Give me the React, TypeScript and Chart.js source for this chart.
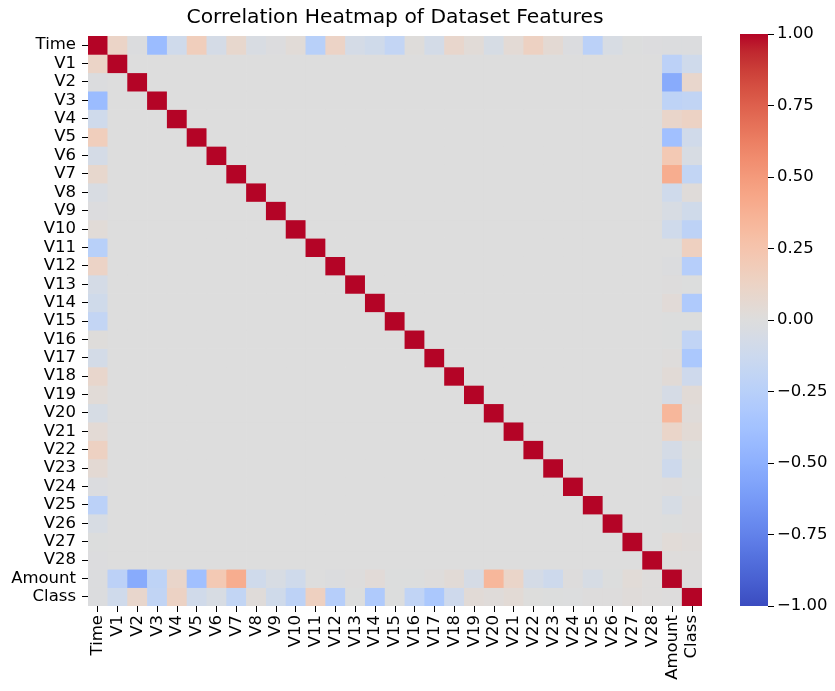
import React, { useEffect, useRef } from 'react';
import { Chart, registerables } from 'chart.js';

Chart.register(...registerables);

// ---------- DATA ----------
const LABELS = [
  'Time', 'V1', 'V2', 'V3', 'V4', 'V5', 'V6', 'V7', 'V8', 'V9', 'V10',
  'V11', 'V12', 'V13', 'V14', 'V15', 'V16', 'V17', 'V18', 'V19', 'V20',
  'V21', 'V22', 'V23', 'V24', 'V25', 'V26', 'V27', 'V28', 'Amount', 'Class',
];

// correlation of Time with V1..V28
const TIME_CORR = [
  0.117, -0.011, -0.420, -0.105, 0.173, -0.063, 0.085, -0.037, -0.009, 0.031,
  -0.248, 0.124, -0.066, -0.099, -0.183, 0.012, -0.073, 0.090, 0.029, -0.051,
  0.045, 0.144, 0.051, -0.016, -0.233, -0.041, -0.005, -0.009,
];

// correlation of Amount with V1..V28
const AMOUNT_CORR = [
  -0.228, -0.531, -0.211, 0.099, -0.386, 0.216, 0.397, -0.103, -0.044, -0.102,
  0.000, -0.010, 0.005, 0.034, -0.003, -0.004, 0.007, 0.036, -0.056, 0.339,
  0.106, -0.065, -0.113, 0.005, -0.048, -0.003, 0.029, 0.010,
];

// correlation of Class with V1..V28
const CLASS_CORR = [
  -0.101, 0.091, -0.193, 0.133, -0.095, -0.044, -0.187, 0.020, -0.098, -0.217,
  0.155, -0.261, -0.005, -0.303, -0.004, -0.197, -0.326, -0.111, 0.035, 0.020,
  0.040, 0.001, -0.003, -0.007, 0.003, 0.004, 0.018, 0.010,
];

const TIME_AMOUNT = -0.011;
const TIME_CLASS = -0.012;
const AMOUNT_CLASS = 0.006;

const CBAR_TICKS = [-1, -0.75, -0.5, -0.25, 0, 0.25, 0.5, 0.75, 1];

// ---------- COLORMAP (matplotlib coolwarm) ----------
const COOLWARM: number[][] = [
  [0.0, 0.2298057, 0.298717966, 0.753683153],
  [0.03125, 0.26623388, 0.353094838, 0.801466763],
  [0.0625, 0.30386891, 0.406535296, 0.84495867],
  [0.09375, 0.342804478, 0.458757618, 0.883725899],
  [0.125, 0.38301334, 0.50941904, 0.917387822],
  [0.15625, 0.424369608, 0.558148092, 0.945619588],
  [0.1875, 0.46666708, 0.604562568, 0.968154911],
  [0.21875, 0.509635204, 0.648280772, 0.98478814],
  [0.25, 0.552953156, 0.688929332, 0.995375608],
  [0.28125, 0.596262162, 0.726149107, 0.999836203],
  [0.3125, 0.639176211, 0.759599947, 0.998151185],
  [0.34375, 0.681291281, 0.788964712, 0.990363227],
  [0.375, 0.722193294, 0.813952739, 0.976574709],
  [0.40625, 0.761464949, 0.834302879, 0.956945269],
  [0.4375, 0.798691636, 0.849786142, 0.931688648],
  [0.46875, 0.833466556, 0.860207984, 0.901068838],
  [0.5, 0.865395197, 0.86541021, 0.865395561],
  [0.53125, 0.897787179, 0.848937047, 0.820880546],
  [0.5625, 0.924127593, 0.827384882, 0.774508472],
  [0.59375, 0.944468518, 0.800927443, 0.726736146],
  [0.625, 0.958852946, 0.769767752, 0.678007945],
  [0.65625, 0.96732803, 0.734132809, 0.628751763],
  [0.6875, 0.969954137, 0.694266682, 0.579375448],
  [0.71875, 0.966811177, 0.650421156, 0.530263762],
  [0.75, 0.958003065, 0.602842431, 0.481775914],
  [0.78125, 0.943660866, 0.551750968, 0.434243684],
  [0.8125, 0.923944917, 0.49730856, 0.387970225],
  [0.84375, 0.89904617, 0.439559467, 0.343229596],
  [0.875, 0.869186849, 0.378313092, 0.300267182],
  [0.90625, 0.834620542, 0.312874446, 0.259301199],
  [0.9375, 0.795631745, 0.24128379, 0.220525627],
  [0.96875, 0.752534934, 0.157246067, 0.184115123],
  [1.0, 0.705673158, 0.01555616, 0.150232812],
];

function cmapAt(t: number): string {
  t = Math.max(0, Math.min(1, t));
  for (let i = 0; i < COOLWARM.length - 1; i++) {
    const a = COOLWARM[i];
    const b = COOLWARM[i + 1];
    if (t <= b[0]) {
      const f = (t - a[0]) / (b[0] - a[0]);
      const r = Math.round(255 * (a[1] + f * (b[1] - a[1])));
      const g = Math.round(255 * (a[2] + f * (b[2] - a[2])));
      const bl = Math.round(255 * (a[3] + f * (b[3] - a[3])));
      return `rgb(${r},${g},${bl})`;
    }
  }
  const l = COOLWARM[COOLWARM.length - 1];
  return `rgb(${Math.round(255 * l[1])},${Math.round(255 * l[2])},${Math.round(255 * l[3])})`;
}

function coolwarm(v: number): string {
  return cmapAt((v + 1) / 2);
}

function buildMatrix(): number[][] {
  const n = LABELS.length;
  const idxT = 0;
  const idxA = n - 2;
  const idxC = n - 1;
  const m: number[][] = [];
  for (let r = 0; r < n; r++) {
    const row: number[] = [];
    for (let c = 0; c < n; c++) row.push(r === c ? 1 : 0);
    m.push(row);
  }
  for (let k = 1; k <= 28; k++) {
    m[idxT][k] = m[k][idxT] = TIME_CORR[k - 1];
    m[idxA][k] = m[k][idxA] = AMOUNT_CORR[k - 1];
    m[idxC][k] = m[k][idxC] = CLASS_CORR[k - 1];
  }
  m[idxT][idxA] = m[idxA][idxT] = TIME_AMOUNT;
  m[idxT][idxC] = m[idxC][idxT] = TIME_CLASS;
  m[idxA][idxC] = m[idxC][idxA] = AMOUNT_CLASS;
  return m;
}

const FONT_FAMILY = "'DejaVu Sans', sans-serif";
const TICK_FONT = { family: FONT_FAMILY, size: 16.5 };
const TEXT_COLOR = '#000';

export default function App() {
  const heatRef = useRef<HTMLCanvasElement>(null);
  const barRef = useRef<HTMLCanvasElement>(null);

  useEffect(() => {
    const m = buildMatrix();
    const heat = new Chart(heatRef.current as HTMLCanvasElement, {
      type: 'bar',
      data: {
        labels: LABELS,
        datasets: LABELS.map((rowLabel, r) => ({
          label: rowLabel,
          data: LABELS.map(() => 1),
          backgroundColor: LABELS.map((_, c) => coolwarm(m[r][c])),
          borderWidth: 0,
          barPercentage: 1,
          categoryPercentage: 1,
        })),
      },
      options: {
        responsive: false,
        animation: false,
        layout: { padding: 0 },
        plugins: {
          legend: { display: false },
          tooltip: { enabled: false },
          title: {
            display: true,
            text: 'Correlation Heatmap of Dataset Features',
            color: TEXT_COLOR,
            font: { family: FONT_FAMILY, size: 20.3, weight: 'normal', lineHeight: 1.0 },
            padding: { top: 0, bottom: 7.7 },
          },
        },
        scales: {
          x: {
            stacked: true,
            grid: { offset: false, drawOnChartArea: false, drawTicks: true, tickLength: 6, color: '#000' },
            border: { display: false },
            ticks: {
              autoSkip: false,
              maxRotation: 90,
              minRotation: 90,
              font: TICK_FONT,
              color: TEXT_COLOR,
              padding: 3,
            },
            afterFit: (s: any) => { s.height = 77; },
          },
          y: {
            stacked: true,
            reverse: true,
            min: 0,
            max: LABELS.length,
            afterBuildTicks: (s: any) => {
              s.ticks = LABELS.map((_, i) => ({ value: i + 0.5 }));
            },
            grid: { drawOnChartArea: false, drawTicks: true, tickLength: 6, color: '#000' },
            border: { display: false },
            ticks: {
              autoSkip: false,
              font: TICK_FONT,
              color: TEXT_COLOR,
              padding: 6,
              callback: (v: any) => LABELS[Math.floor(Number(v))],
            },
            afterFit: (s: any) => { s.width = 80; },
          },
          ySpacer: {
            position: 'right',
            display: true,
            grid: { display: false },
            border: { display: false },
            ticks: { display: false },
            afterFit: (s: any) => { s.width = 80; },
          },
        },
      } as any,
    });

    const cbar = new Chart(barRef.current as HTMLCanvasElement, {
      type: 'bar',
      data: {
        labels: [''],
        datasets: [{
          data: [[-1, 1]] as any,
          backgroundColor: (ctx: any) => {
            const area = ctx.chart.chartArea;
            if (!area) return coolwarm(0);
            const g = ctx.chart.ctx.createLinearGradient(0, area.bottom, 0, area.top);
            for (let i = 0; i <= 64; i++) {
              const t = i / 64;
              g.addColorStop(t, cmapAt(t));
            }
            return g;
          },
          borderWidth: 0,
          barPercentage: 1,
          categoryPercentage: 1,
        }],
      },
      options: {
        responsive: false,
        animation: false,
        layout: { padding: { left: 20, right: 0, top: 26, bottom: 77 } },
        plugins: { legend: { display: false }, tooltip: { enabled: false } },
        scales: {
          x: { display: false },
          y: {
            position: 'right',
            min: -1,
            max: 1,
            afterBuildTicks: (s: any) => {
              s.ticks = CBAR_TICKS.map((v) => ({ value: v }));
            },
            grid: { drawOnChartArea: false, drawTicks: true, tickLength: 6, color: '#000' },
            border: { display: false },
            ticks: {
              font: TICK_FONT,
              color: TEXT_COLOR,
              padding: 3,
              callback: (v: any) => Number(v).toFixed(2).replace('-', '\u2212'),
            },
            afterFit: (s: any) => { s.width = 67; },
          },
        },
      } as any,
    });

    return () => {
      heat.destroy();
      cbar.destroy();
    };
  }, []);

  return (
    <div style={{ position: 'relative', width: 819, height: 675 }}>
      <canvas
        ref={heatRef}
        width={774}
        height={675}
        style={{ position: 'absolute', left: 0, top: 0, width: 774, height: 675 }}
      />
      <canvas
        ref={barRef}
        width={115}
        height={675}
        style={{ position: 'absolute', left: 712, top: 0, width: 115, height: 675 }}
      />
    </div>
  );
}
